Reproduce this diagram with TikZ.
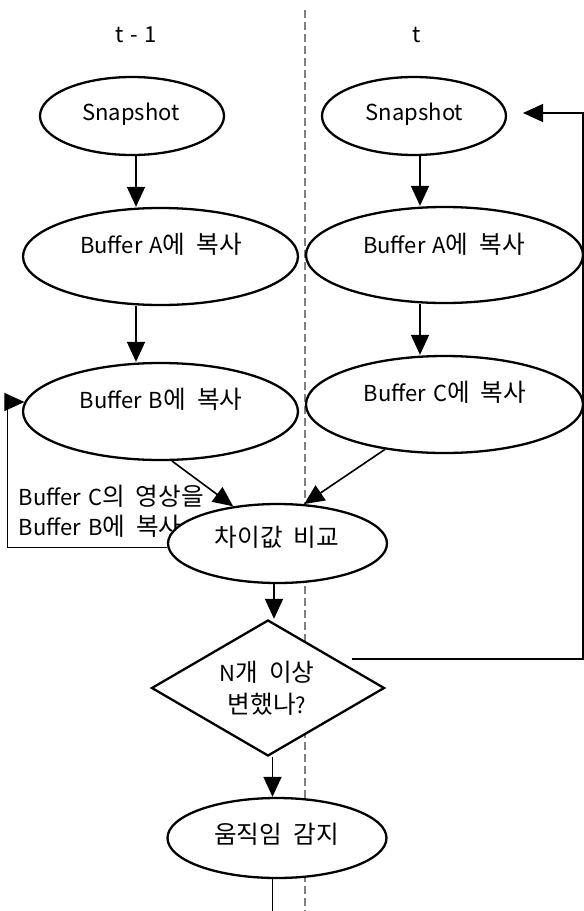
\documentclass[tikz,border=0pt]{standalone}
\usepackage{fontspec}
\setmainfont{Noto Sans CJK KR}[WordSpace=1.4]
\newfontfamily\ko{Noto Sans CJK KR}[Scale=1.12,WordSpace=2]
\usetikzlibrary{shapes.geometric,arrows.meta,calc}
\begin{document}
\begin{tikzpicture}[x=1pt,y=-1pt,
  shp/.style={draw=black, line width=2.3pt, fill=white, inner sep=0pt},
  ell/.style={shp, ellipse},
  txt/.style={font=\fontsize{22}{28}\selectfont, inner sep=0pt, anchor=base},
  conn/.style={line width=1.6pt},
  arr/.style={conn, -{Triangle[length=20pt,width=18pt]}},
  fbline/.style={line width=1.1pt},
  fbarr/.style={fbline, -{Triangle[length=20pt,width=18pt]}},
  divider/.style={draw=gray, line width=1.3pt, dash pattern=on 8pt off 4pt}
]
\path[fill=white, use as bounding box] (0,0) rectangle (584,911);

% column guides
\coordinate (cL) at (136,0);
\coordinate (cR) at (420,0);
\coordinate (cD) at (274,0);
\coordinate (cM) at (272.5,0);
\coordinate (divTop) at (305,10);
\coordinate (divBot) at (305,911);

\draw[divider] (divTop) -- (divBot);

\node[txt] (hL) at (136,42) {t - 1};
\node[txt] (hR) at (417,42) {t};

% feedback label (partly hidden by the ellipse)
\node[txt, anchor=base west] (lab1) at (18.6,505) {Buffer C{\ko 의 영상을}};
\node[txt, anchor=base west] (lab2) at (18.6,535) {Buffer B{\ko 에 복사}};

% shapes
\node[ell, minimum width=184pt, minimum height=78pt] (snapL) at (132,116) {};
\node[ell, minimum width=184pt, minimum height=78pt] (snapR) at (414,116) {};
\node[ell, minimum width=275pt, minimum height=97pt] (bufAL) at (160.5,256.5) {};
\node[ell, minimum width=275pt, minimum height=97pt] (bufBL) at (160.5,411.5) {};
\node[ell, minimum width=277pt, minimum height=96pt] (bufAR) at (444.5,255) {};
\node[ell, minimum width=277pt, minimum height=97pt] (bufCR) at (444.5,404.5) {};
\node[ell, minimum width=219pt, minimum height=79pt] (diff) at (277.5,543.5) {};
\node[shp, diamond, minimum width=233pt, minimum height=136pt] (dia) at (268,688) {};
\node[ell, minimum width=219pt, minimum height=80pt] (motion) at (277,838) {};

% texts
\node[txt] (tSnapL) at (131,120) {Snapshot};
\node[txt] (tSnapR) at (414.5,120) {Snapshot};
\node[txt] (tBufAL) at (161,253) {Buffer A{\ko 에 복사}};
\node[txt] (tBufBL) at (161,408) {Buffer B{\ko 에 복사}};
\node[txt] (tBufAR) at (444,253) {Buffer A{\ko 에 복사}};
\node[txt] (tBufCR) at (445,401) {Buffer C{\ko 에 복사}};
\node[txt] (tDiff) at (277,546) {\ko 차이값 비교};
\node[txt] (tDia1) at (267,681) {N{\ko 개 이상}};
\node[txt] (tDia2) at (267,713) {{\ko 변했나}?};
\node[txt] (tMotion) at (276.5,843) {\ko 움직임 감지};

% connectors
\draw[arr] (snapL.south -| cL) -- (bufAL.north -| cL);
\draw[arr] (bufAL.south -| cL) -- (bufBL.north -| cL);
\draw[arr] (snapR.south -| cR) -- (bufAR.north -| cR);
\draw[arr] (bufAR.south -| cR) -- (bufCR.north -| cR);
\draw[arr] (bufBL.283) -- (diff.140);
\draw[arr] (bufCR.217) -- (diff.56);
\draw[arr] (diff.south -| cD) -- (dia.north -| cD);
\draw[arr] (dia.south -| cM) -- (motion.north -| cM);
\coordinate (endM) at (272.5,911);
\draw[conn] (motion.south -| endM) -- (endM);

% feedback loops
\coordinate (fbLx) at (7.5,0);
\draw[fbarr] (diff.182) -- (diff.182 -| fbLx) |- (bufBL.176);

\coordinate (fbRs) at (352,659);
\coordinate (fbRx) at (583,0);
\coordinate (fbRt) at (523,113);
\draw[fbarr] (fbRs) -- (fbRs -| fbRx) |- (fbRt);
\end{tikzpicture}
\end{document}
